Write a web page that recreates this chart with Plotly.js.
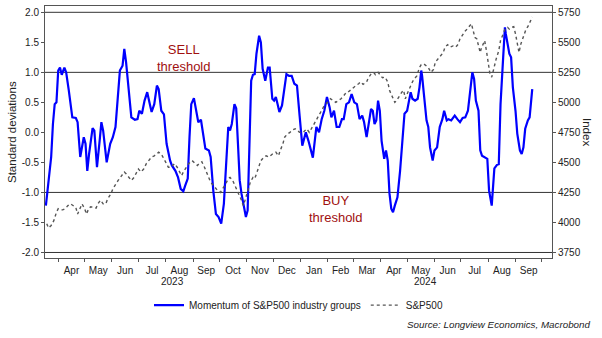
<!DOCTYPE html>
<html>
<head>
<meta charset="utf-8">
<script src="https://cdn.plot.ly/plotly-3.0.1.min.js"></script>
<style>html,body{margin:0;padding:0;background:#fff;}#chart{width:602px;height:338px;}</style>
</head>
<body>
<div id="chart"></div>
<script>
// Days counted from 2023-04-01
const momentumDays = [-14,-11,-8,-6,-4,-2,0,2,4,7,9,12,16,20,22,25,29,31,33,35,39,41,44,47,49,51,55,59,62,65,68,70,73,75,77,80,83,87,90,92,95,98,101,104,106,109,112,114,117,120,123,127,129,133,136,139,142,144,147,149,151,154,156,159,162,165,167,171,173,176,179,182,185,188,190,193,195,197,200,202,204,206,208,210,213,215,217,219,221,223,225,228,230,232,235,236,238,240,243,245,247,249,251,254,257,259,262,265,268,271,274,277,281,284,289,293,296,299,302,305,308,310,313,316,319,322,324,327,330,333,336,339,342,345,347,350,353,355,357,359,361,363,365,367,370,372,374,376,378,380,382,385,388,391,393,396,398,400,402,405,408,410,412,413,415,418,420,422,425,427,430,433,436,438,441,443,446,450,453,456,459,462,465,467,470,472,474,477,479,481,484,487,489,492,495,498,500,502,505,507,508,510,512,514,516,519,521,524,526,528,530,533,535,538];
const momentumVals = [-1.22,-0.86,-0.41,0.14,0.47,0.50,1.03,1.08,0.96,1.08,1.00,0.70,0.25,0.24,0.17,-0.41,-0.08,-0.19,-0.64,-0.36,0.07,0.03,-0.58,-0.14,0.17,0.03,-0.50,-0.19,-0.08,0.09,0.70,1.03,1.11,1.39,1.17,0.70,0.25,0.21,0.22,0.36,0.31,0.53,0.67,0.47,0.34,0.47,0.78,0.72,0.36,0.30,-0.19,-0.47,-0.55,-0.64,-0.75,-0.94,-0.98,-0.89,-0.77,-0.08,0.47,0.57,0.42,0.17,0.21,-0.05,-0.27,-0.30,-0.41,-0.97,-1.36,-1.41,-1.52,-1.19,-0.75,0.09,0.03,0.14,0.47,0.40,-0.19,-0.80,-1.02,-1.19,-1.41,-1.30,-0.36,0.86,0.96,0.97,1.31,1.61,1.50,1.06,0.86,0.94,1.08,1.08,0.56,0.53,0.59,0.47,0.34,0.45,0.81,0.97,0.94,0.94,0.81,0.78,0.27,-0.22,0.00,-0.14,-0.42,0.09,0.00,0.22,0.36,0.59,0.42,0.25,0.36,0.09,0.09,0.22,0.22,0.47,0.50,0.64,0.50,0.47,0.22,0.28,0.18,-0.08,0.20,0.39,0.36,0.14,0.20,0.53,0.36,-0.14,-0.44,-0.30,-0.47,-1.02,-1.27,-1.33,-1.22,-1.08,-0.64,-0.08,0.31,0.36,0.53,0.67,0.56,0.53,0.56,0.75,1.03,0.94,0.64,0.20,0.09,-0.25,-0.47,-0.30,-0.25,0.09,0.22,0.36,0.20,0.22,0.20,0.28,0.22,0.17,0.24,0.25,0.36,0.61,1.00,0.89,0.53,0.36,-0.30,-0.39,-0.42,-0.44,-0.97,-1.22,-0.60,-0.54,-0.53,0.47,1.25,1.75,1.64,1.47,1.31,1.25,0.75,0.36,-0.02,-0.30,-0.36,-0.25,0.06,0.20,0.25,0.72];

const spxDays = [-13,-11,-8,-5,-2,0,3,5,8,11,14,17,20,22,25,27,30,32,35,37,41,43,45,48,51,54,56,60,62,65,68,72,75,77,80,83,86,89,91,94,97,100,103,106,109,111,114,117,120,123,125,128,132,135,137,140,142,145,148,152,155,158,160,163,166,168,171,173,176,179,181,184,187,190,193,195,198,201,204,208,210,212,215,218,221,223,225,228,230,233,236,239,242,244,247,250,252,255,257,260,263,266,269,272,274,278,282,285,290,293,295,298,301,304,307,309,312,315,318,321,324,327,329,332,335,338,341,343,346,350,352,355,358,360,363,366,368,371,374,376,379,382,384,387,390,392,394,396,399,402,404,407,410,412,415,418,420,423,426,428,431,434,437,439,442,445,448,451,454,456,459,462,464,467,469,471,473,475,477,479,480,482,484,486,488,490,492,494,495,497,500,502,505,507,510,512,515,517,519,521,523,525,528,531,533,536,538];
const spxVals = [3990,3955,3975,4015,4085,4115,4105,4105,4115,4140,4155,4140,4125,4070,4120,4155,4115,4070,4120,4130,4125,4120,4155,4185,4155,4155,4195,4240,4280,4320,4350,4390,4420,4405,4375,4350,4375,4420,4445,4420,4445,4490,4515,4545,4555,4570,4585,4570,4530,4495,4460,4460,4490,4460,4435,4390,4420,4460,4490,4515,4495,4475,4490,4505,4460,4420,4375,4335,4310,4280,4265,4250,4280,4320,4365,4375,4350,4295,4250,4185,4140,4185,4265,4335,4375,4365,4405,4475,4515,4540,4555,4545,4565,4575,4585,4555,4600,4655,4710,4735,4750,4770,4780,4765,4750,4750,4780,4750,4820,4860,4890,4920,4960,4985,5015,5030,5015,5000,5015,5030,5055,5085,5085,5105,5125,5140,5155,5170,5150,5170,5205,5235,5250,5230,5250,5220,5205,5210,5170,5100,5045,5000,5015,5055,5085,5100,5030,5070,5125,5170,5195,5220,5290,5315,5320,5305,5290,5250,5275,5335,5360,5390,5415,5460,5480,5460,5470,5460,5485,5530,5565,5595,5610,5640,5655,5595,5540,5530,5460,5415,5445,5485,5515,5430,5335,5235,5210,5275,5320,5360,5430,5515,5570,5610,5625,5610,5625,5630,5570,5500,5415,5485,5555,5610,5630,5680,5710];

const thresholdLevels = [-2, -1, 1, 2];
const leftTickVals = [-2, -1.5, -1, -0.5, 0, 0.5, 1, 1.5, 2];
const leftTickText = ["-2.0", "-1.5", "-1.0", "-0.5", "0.0", "0.5", "1.0", "1.5", "2.0"];
const yearLabels = ["2023", "2024"];
const yearLabelDates = ["2023-08-09", "2024-05-22"];

const base = Date.UTC(2023, 3, 1);
const toDate = d => new Date(base + d * 86400000).toISOString().slice(0, 10);

const font = "Arial, 'Liberation Sans', sans-serif";
const txt = "#222222";

const traces = [
  {
    x: momentumDays.map(toDate), y: momentumVals, type: "scatter", mode: "lines",
    name: "Momentum of S&P500 industry groups",
    line: {color: "#0000ff", width: 2.2},
    yaxis: "y"
  },
  {
    x: spxDays.map(toDate), y: spxVals, type: "scatter", mode: "lines",
    name: "S&P500",
    line: {color: "#555555", width: 1.4, dash: "dot"},
    yaxis: "y2"
  }
];

const shapes = thresholdLevels.map(v => ({
  type: "line", xref: "paper", x0: 0, x1: 1, yref: "y", y0: v, y1: v,
  line: {color: "#333333", width: 1}, layer: "below"
}));

const annotations = [
  {text: "SELL<br>threshold", xref: "paper", x: 0.274, xanchor: "center", yref: "y", y: 1.24, yanchor: "middle",
   showarrow: false, font: {family: font, size: 13, color: "#a01010"}},
  {text: "BUY<br>threshold", xref: "paper", x: 0.572, xanchor: "center", yref: "y", y: -1.276, yanchor: "middle",
   showarrow: false, font: {family: font, size: 13, color: "#a01010"}},
  {text: "Standard deviations", xref: "paper", x: -0.0651, xanchor: "center", yref: "paper", y: 0.5, yanchor: "middle",
   textangle: -90, showarrow: false, font: {family: font, size: 11.5, color: txt}},
  {text: "Index", xref: "paper", x: 1.069, xanchor: "center", yref: "paper", y: 0.5, yanchor: "middle",
   textangle: 90, showarrow: false, font: {family: font, size: 11.5, color: txt}},
  {text: "<i>Source: Longview Economics, Macrobond</i>", xref: "paper", x: 1.081, xanchor: "right",
   yref: "paper", y: -0.262, yanchor: "middle", showarrow: false, font: {family: font, size: 9.8, color: txt}}
].concat(yearLabels.map((t, i) => ({
  text: t, xref: "x", x: yearLabelDates[i], xanchor: "center", yref: "paper", y: -0.095, yanchor: "middle",
  showarrow: false, font: {family: font, size: 10, color: txt}
})));

const layout = {
  width: 602, height: 338,
  margin: {l: 45, r: 50, t: 6, b: 80},
  paper_bgcolor: "#ffffff", plot_bgcolor: "#ffffff",
  font: {family: font, size: 10, color: txt},
  showlegend: true,
  legend: {orientation: "h", x: 0.5, xanchor: "center", y: -0.187, yanchor: "middle",
           itemwidth: 30, font: {family: font, size: 10, color: txt}, bgcolor: "rgba(0,0,0,0)"},
  xaxis: {
    type: "date", range: ["2023-03-17", "2024-10-12 10:00"],
    dtick: "M1", tick0: "2023-04-01", ticklabelmode: "period", tickformat: "%b",
    ticks: "outside", ticklen: 3, tickcolor: "#555555",
    showline: true, linecolor: "#555555", linewidth: 1, mirror: true,
    showgrid: false, zeroline: false,
    tickfont: {family: font, size: 10, color: txt}
  },
  yaxis: {
    range: [-2.092, 2.105], tickmode: "array", tickvals: leftTickVals, ticktext: leftTickText,
    ticks: "outside", ticklen: 3, tickcolor: "#555555",
    showline: true, linecolor: "#555555", linewidth: 1,
    showgrid: false, zeroline: false,
    tickfont: {family: font, size: 10, color: txt}
  },
  yaxis2: {
    overlaying: "y", side: "right", range: [3704, 5802.5], tick0: 3750, dtick: 250,
    ticks: "outside", ticklen: 3, tickcolor: "#555555",
    showline: true, linecolor: "#555555", linewidth: 1,
    showgrid: false, zeroline: false,
    tickfont: {family: font, size: 10, color: txt}
  },
  shapes: shapes,
  annotations: annotations
};

Plotly.newPlot("chart", traces, layout, {staticPlot: true, displayModeBar: false});
</script>
</body>
</html>
